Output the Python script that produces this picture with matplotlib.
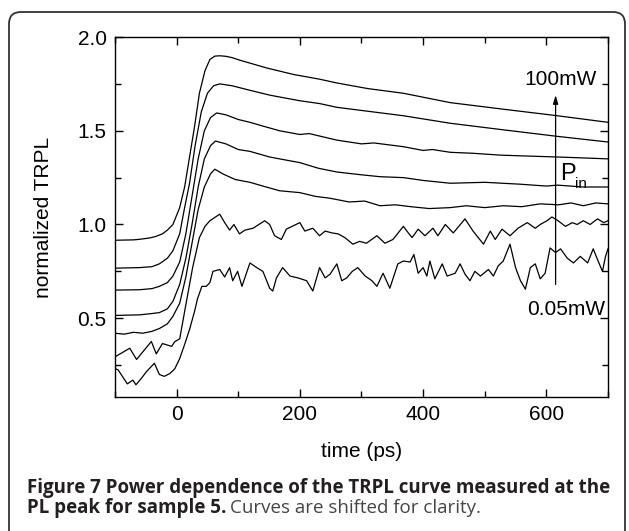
import matplotlib
matplotlib.use("Agg")
import matplotlib.pyplot as plt
from matplotlib.patches import FancyBboxPatch
from matplotlib.transforms import IdentityTransform
from matplotlib.ticker import MultipleLocator

# time (ps) / normalized TRPL, highest power first
t1 = [-100, -70, -60, -44, -35, -23, -15, -6, 5, 13, 21, 29, 37, 46, 54, 62, 70, 80, 90, 102,
      146, 190, 232, 260, 310, 368, 444, 530, 618, 700]
v1 = [0.916, 0.918, 0.921, 0.928, 0.935, 0.95, 0.97, 1.0, 1.09, 1.20, 1.36, 1.52, 1.70, 1.82,
      1.88, 1.898, 1.90, 1.897, 1.89, 1.877, 1.835, 1.80, 1.775, 1.755, 1.725, 1.70, 1.65,
      1.615, 1.58, 1.545]

t2 = [-100, -60, -40, -28, -15, -6, 5, 13, 21, 30, 40, 50, 60, 70, 90, 120, 151, 200, 232,
      260, 320, 368, 444, 530, 618, 700]
v2 = [0.767, 0.77, 0.775, 0.79, 0.82, 0.86, 0.95, 1.09, 1.22, 1.42, 1.60, 1.70, 1.74, 1.75,
      1.74, 1.715, 1.69, 1.66, 1.645, 1.625, 1.60, 1.58, 1.54, 1.505, 1.47, 1.44]

t3 = [-100, -60, -40, -28, -15, -6, 5, 15, 25, 35, 45, 55, 65, 80, 100, 119, 140, 167, 200,
      215, 260, 300, 320, 368, 400, 415, 444, 480, 525, 570, 618, 660, 700]
v3 = [0.65, 0.652, 0.658, 0.67, 0.69, 0.725, 0.80, 0.95, 1.15, 1.35, 1.50, 1.57, 1.595, 1.585,
      1.56, 1.545, 1.525, 1.50, 1.48, 1.485, 1.45, 1.43, 1.435, 1.415, 1.395, 1.40, 1.385,
      1.38, 1.37, 1.365, 1.36, 1.355, 1.35]

t4 = [-100, -60, -40, -28, -15, -6, 5, 15, 25, 35, 45, 55, 63, 80, 100, 119, 151, 167, 200,
      230, 260, 300, 330, 368, 400, 444, 500, 557, 600, 618, 660, 700]
v4 = [0.515, 0.518, 0.525, 0.53, 0.55, 0.59, 0.68, 0.82, 1.00, 1.20, 1.35, 1.42, 1.445, 1.43,
      1.40, 1.39, 1.36, 1.35, 1.33, 1.30, 1.28, 1.265, 1.255, 1.25, 1.235, 1.22, 1.225, 1.215,
      1.205, 1.21, 1.2, 1.20]

t5 = [-100, -85, -70, -55, -40, -28, -15, -6, 5, 15, 25, 35, 45, 55, 62, 75, 95, 119, 140,
      167, 200, 225, 249, 280, 305, 330, 355, 380, 410, 444, 470, 500, 530, 560, 590, 620,
      640, 660, 680, 700]
v5 = [0.42, 0.415, 0.425, 0.42, 0.43, 0.445, 0.47, 0.51, 0.58, 0.72, 0.90, 1.08, 1.20, 1.27,
      1.295, 1.27, 1.24, 1.225, 1.205, 1.18, 1.17, 1.15, 1.14, 1.12, 1.125, 1.10, 1.105, 1.095,
      1.085, 1.09, 1.10, 1.09, 1.10, 1.095, 1.11, 1.105, 1.115, 1.10, 1.115, 1.11]

t6 = [-99, -76, -65, -41, -33, -23, -8, -3, 5, 16, 26, 37, 46, 54, 70, 78, 86, 93, 102, 111,
      124, 143, 151, 159, 170, 178, 200, 208, 221, 232, 241, 252, 262, 273, 286, 297, 308,
      325, 338, 351, 368, 376, 382, 392, 403, 416, 424, 436, 449, 468, 481, 498, 509, 517,
      528, 541, 554, 569, 582, 590, 601, 609, 619, 631, 642, 650, 660, 671, 683, 693, 700]
v6 = [0.296, 0.34, 0.28, 0.376, 0.31, 0.365, 0.35, 0.375, 0.39, 0.59, 0.77, 0.93, 0.99, 1.02,
      1.055, 1.01, 0.97, 1.0, 0.95, 0.97, 0.98, 1.02, 1.0, 0.94, 0.92, 0.975, 1.01, 0.965,
      0.98, 0.94, 0.965, 0.955, 0.95, 0.93, 0.895, 0.91, 0.90, 0.94, 0.90, 0.92, 0.99, 0.955,
      0.93, 0.975, 0.94, 0.98, 0.94, 1.0, 0.955, 1.03, 0.965, 0.895, 0.965, 0.92, 0.975, 0.94,
      0.98, 1.01, 0.98, 1.0, 1.02, 1.04, 1.02, 0.99, 1.01, 1.0, 1.02, 1.0, 1.03, 1.01, 1.02]

t7 = [-99, -95, -88, -80, -71, -66, -57, -49, -36, -28, -20, -11, -3, 5, 13, 21, 29, 34, 41,
      48, 54, 59, 70, 78, 86, 91, 99, 106, 119, 130, 140, 151, 156, 162, 172, 184, 197, 211,
      221, 232, 241, 249, 260, 268, 276, 285, 294, 306, 317, 325, 335, 346, 359, 368, 379,
      385, 392, 400, 406, 411, 419, 431, 439, 452, 460, 468, 476, 484, 493, 506, 514, 522,
      530, 541, 550, 558, 566, 574, 582, 590, 598, 606, 615, 623, 634, 644, 655, 667, 676,
      684, 691, 696, 700]
v7 = [0.23, 0.225, 0.19, 0.15, 0.17, 0.145, 0.18, 0.215, 0.26, 0.20, 0.19, 0.205, 0.23, 0.285,
      0.36, 0.44, 0.535, 0.605, 0.67, 0.67, 0.69, 0.75, 0.76, 0.72, 0.77, 0.70, 0.75, 0.67,
      0.795, 0.77, 0.75, 0.66, 0.645, 0.715, 0.77, 0.725, 0.715, 0.70, 0.645, 0.77, 0.715,
      0.735, 0.79, 0.70, 0.715, 0.75, 0.77, 0.725, 0.70, 0.67, 0.74, 0.66, 0.79, 0.805, 0.80,
      0.84, 0.74, 0.77, 0.725, 0.805, 0.71, 0.79, 0.725, 0.74, 0.79, 0.735, 0.70, 0.75, 0.725,
      0.76, 0.725, 0.78, 0.805, 0.895, 0.77, 0.70, 0.655, 0.77, 0.79, 0.71, 0.74, 0.875, 0.85,
      0.87, 0.82, 0.795, 0.83, 0.795, 0.87, 0.805, 0.75, 0.83, 0.87]

curves = [(t1, v1), (t2, v2), (t3, v3), (t4, v4), (t5, v5), (t6, v6), (t7, v7)]

x_ticks = [0, 200, 400, 600]
y_ticks = [0.5, 1.0, 1.5, 2.0]

plt.rcParams['font.family'] = ['Liberation Sans', 'DejaVu Sans']

fig = plt.figure(figsize=(6.29, 5.31), dpi=100)

# rounded frame around figure + caption
frame = FancyBboxPatch((9, -14), 616, 533, boxstyle="round,pad=0,rounding_size=12",
                       transform=IdentityTransform(), facecolor="none", edgecolor="#333333",
                       linewidth=1.3, clip_on=False)
fig.patches.append(frame)

ax = fig.add_axes([0.1828, 0.2524, 0.7838, 0.6779])
for t, v in curves:
    ax.plot(t, v, color="black", linewidth=0.9)

ax.set_xlim(-100, 700)
ax.set_ylim(0.08, 2.0)
ax.set_xticks(x_ticks)
ax.set_yticks(y_ticks)
ax.set_yticklabels(["0.5", "1.0", "1.5", "2.0"])
ax.xaxis.set_minor_locator(MultipleLocator(100))
ax.yaxis.set_minor_locator(MultipleLocator(0.25))
ax.tick_params(which="both", direction="in", top=True, right=True, width=1, labelsize=15,
               colors="black")
ax.tick_params(which="major", length=6, pad=6)
ax.tick_params(which="minor", length=4)
for s in ax.spines.values():
    s.set_linewidth(1)
ax.set_xlabel("time (ps)", fontsize=15, labelpad=13)
ax.set_ylabel("normalized TRPL", fontsize=15, labelpad=18)

# power arrow + labels
ax.annotate("", xy=(615, 1.69), xytext=(615, 0.68),
            arrowprops=dict(arrowstyle="-|>,head_length=0.5,head_width=0.15", color="black",
                            linewidth=0.9, shrinkA=0, shrinkB=0))
ax.text(682, 1.775, "100mW", fontsize=15, ha="right", va="center")
ax.text(695, 0.548, "0.05mW", fontsize=15, ha="right", va="center")
ax.text(622, 1.27, "P", fontsize=17, ha="left", va="center")
ax.text(646, 1.215, "in", fontsize=11, ha="left", va="center")

# caption
cap_kw = dict(fontsize=13.5, family=["Open Sans", "DejaVu Sans"], va="center")
fig.text(27 / 629, 1 - 488 / 531,
         "Figure 7 Power dependence of the TRPL curve measured at the",
         fontweight="bold", color="#231f20", **cap_kw)
bold2 = fig.text(27 / 629, 1 - 508 / 531, "PL peak for sample 5.",
                 fontweight="bold", color="#231f20", **cap_kw)
fig.canvas.draw()
bb = bold2.get_window_extent()
fig.text((bb.x1 + 4) / 629, 1 - 508 / 531, "Curves are shifted for clarity.",
         color="#444444", **cap_kw)

fig.savefig("out.png", dpi=100)
